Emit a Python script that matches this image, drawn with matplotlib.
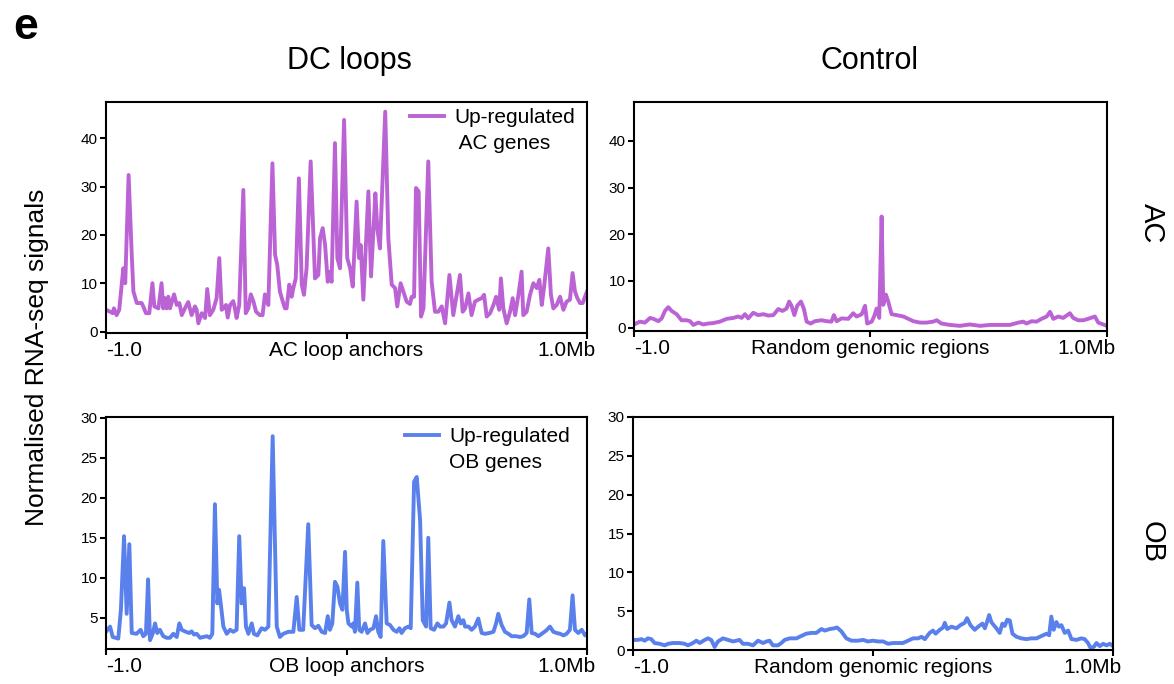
import matplotlib
matplotlib.use("Agg")
import matplotlib.pyplot as plt
from matplotlib.lines import Line2D
import matplotlib.transforms as mtransforms

plt.rcParams['font.family'] = ['Liberation Sans', 'DejaVu Sans']

# ---- profile data: position relative to anchor (kb) and normalised signal ----
ac_loop_kb = [-1000, -983, -972, -967, -956, -945, -928, -920, -906, -893,
              -886, -872, -852, -845, -834, -820, -807, -799, -782, -769,
              -762, -755, -748, -741, -734, -717, -706, -695, -685, -672,
              -658, -644, -630, -623, -616, -602, -588, -579, -568, -554,
              -540, -529, -519, -512, -501, -494, -484, -471, -464, -457,
              -446, -429, -419, -408, -398, -387, -376, -360, -349, -339,
              -325, -308, -297, -288, -277, -265, -256, -249, -238, -228,
              -221, -211, -198, -186, -177, -166, -149, -131, -117, -110,
              -99, -89, -78, -69, -62, -48, -38, -27, -10,
              3, 15, 26, 42, 52, 59, 70, 91, 102, 120,
              128, 139, 161, 174, 188, 202, 211, 225, 236, 250,
              264, 271, 281, 289, 300, 310, 320, 340, 354, 368,
              382, 396, 410, 428, 444, 458, 472, 483, 493, 507,
              520, 534, 548, 562, 572, 583, 597, 611, 622, 635,
              642, 652, 666, 680, 691, 701, 715, 728, 735, 749,
              763, 777, 791, 802, 812, 821, 839, 850, 860, 874,
              888, 902, 915, 929, 940, 950, 960, 971, 982, 1000]
ac_loop_signal = [4.5, 4.1, 3.8, 4.8, 3.4, 4.5, 13.1, 10.0, 32.4, 15.9,
                  8.3, 5.9, 5.9, 5.2, 3.8, 3.8, 10.0, 5.2, 4.8, 10.0,
                  4.8, 6.9, 4.8, 7.2, 4.8, 7.7, 5.5, 5.9, 3.4, 4.8,
                  6.1, 3.4, 5.2, 4.5, 1.7, 3.8, 2.8, 8.8, 3.4, 4.5,
                  6.9, 15.2, 4.5, 4.8, 5.5, 2.9, 5.5, 6.3, 4.8, 2.8,
                  5.5, 29.3, 3.8, 4.8, 7.7, 6.2, 4.1, 3.4, 3.4, 7.7,
                  5.5, 34.8, 15.9, 13.8, 8.3, 6.2, 4.8, 4.8, 9.7, 7.2,
                  9.0, 11.0, 31.7, 9.7, 7.6, 13.1, 35.2, 11.0, 11.7, 19.3,
                  21.4, 17.9, 10.3, 12.4, 10.3, 39.0, 15.2, 13.1, 43.8,
                  15.2, 13.1, 9.3, 26.9, 15.2, 17.9, 6.6, 29.0, 11.4, 28.6,
                  21.4, 17.2, 45.5, 19.3, 9.7, 9.0, 5.2, 10.0, 8.3, 6.2,
                  5.7, 7.2, 7.2, 29.7, 29.0, 3.1, 4.8, 35.2, 10.3, 4.1,
                  4.1, 5.2, 1.7, 11.7, 3.4, 7.6, 11.7, 4.1, 4.8, 7.9,
                  3.4, 6.2, 6.6, 6.9, 7.6, 3.1, 3.8, 5.5, 7.2, 4.5,
                  11.0, 4.8, 1.7, 4.1, 6.9, 3.4, 7.6, 12.4, 3.4, 4.1,
                  7.6, 10.0, 9.0, 10.7, 5.5, 9.0, 17.2, 7.6, 4.8, 5.5,
                  7.2, 4.5, 6.2, 6.6, 12.1, 8.3, 6.9, 5.9, 5.9, 8.3]

ac_ctrl_kb = [-1000, -975, -954, -932, -918, -897, -883, -869, -855, -841,
              -820, -799, -778, -763, -749, -728, -707, -686, -665, -637,
              -608, -580, -559, -545, -531, -517, -496, -475, -453, -432,
              -411, -390, -372, -355, -344, -334, -322, -310, -294, -282,
              -270, -253, -235, -207, -186, -165, -155, -143, -122, -94,
              -73, -59, -45,
              -37, -23, -14, 5, 15, 26, 37, 47, 54, 65,
              75, 89, 110, 139, 160, 181, 209, 237, 265, 280,
              300, 336, 378, 420, 463, 505, 547, 589, 625, 646,
              660, 681, 702, 723, 745, 759, 773, 794, 815, 843,
              857, 878, 900, 920, 949, 963, 984, 1000]
ac_ctrl_signal = [0.7, 1.3, 1.1, 2.1, 1.9, 1.4, 2.0, 3.6, 4.4, 3.6,
                  2.9, 1.6, 1.6, 1.4, 0.6, 1.1, 0.7, 0.9, 1.0, 1.3,
                  1.9, 2.1, 2.4, 2.1, 2.9, 2.0, 3.2, 2.7, 2.9, 2.6,
                  2.7, 4.0, 3.6, 4.1, 5.6, 4.7, 2.7, 4.7, 5.6, 4.1,
                  1.3, 0.9, 1.4, 1.6, 1.4, 1.3, 2.7, 1.4, 2.0, 1.9,
                  3.1, 2.4, 2.7,
                  2.9, 4.7, 0.9, 1.3, 2.4, 4.1, 2.1, 23.8, 4.9, 7.1,
                  5.6, 2.9, 2.7, 2.4, 1.9, 1.4, 1.1, 1.1, 1.3, 1.6,
                  0.9, 0.6, 0.4, 0.7, 0.4, 0.6, 0.6, 0.6, 1.1, 1.3,
                  0.9, 1.4, 1.3, 1.9, 2.4, 3.4, 1.9, 2.4, 2.1, 3.1,
                  2.1, 1.6, 1.6, 1.9, 2.4, 1.1, 0.7, 0.4]

ob_loop_kb = [-1000, -983, -972, -949, -938, -925, -914, -903, -893, -873,
              -856, -845, -834, -825, -817, -806, -796, -787, -776, -762,
              -748, -734, -720, -706, -695, -685, -672, -654, -644, -634,
              -623, -609, -595, -581, -568, -558, -547, -537, -530, -523,
              -512, -498, -484, -471, -457, -446, -436, -426, -418, -408,
              -394, -385, -371, -353, -339, -325, -307, -290, -277, -263,
              -242, -221, -207, -196, -180, -159, -145, -131, -117, -103,
              -89, -78, -69, -59, -48, -38, -27, -17, -6,
              1, 8, 22, 28, 35, 45, 53, 63, 77, 87,
              98, 112, 123, 132, 142, 153, 167, 181, 195, 209,
              220, 229, 243, 257, 267, 281, 292, 306, 317, 331,
              340, 350, 364, 378, 389, 403, 414, 428, 437, 451,
              465, 475, 486, 493, 507, 520, 534, 548, 562, 576,
              594, 611, 622, 631, 645, 659, 673, 687, 705, 721,
              735, 749, 760, 770, 784, 798, 812, 830, 846, 860,
              874, 888, 902, 915, 929, 940, 950, 964, 978, 992, 1000]
ob_loop_signal = [3.25, 3.9, 2.6, 2.4, 6.0, 15.2, 5.5, 14.2, 3.1, 3.0,
                  3.5, 2.7, 3.0, 9.8, 2.2, 3.0, 4.3, 3.1, 3.5, 2.7,
                  2.5, 2.5, 3.0, 2.6, 4.3, 3.5, 3.3, 3.1, 3.3, 2.9,
                  3.0, 2.5, 2.6, 2.7, 2.5, 3.0, 19.2, 6.8, 8.5, 6.8,
                  3.9, 3.0, 3.5, 3.25, 3.5, 15.2, 6.8, 8.7, 3.9, 3.0,
                  4.3, 3.0, 2.8, 3.7, 3.5, 3.9, 27.7, 3.9, 2.6, 3.0,
                  3.25, 3.25, 7.6, 3.5, 3.5, 16.7, 4.1, 3.7, 4.0, 3.25,
                  3.1, 5.2, 3.5, 4.3, 9.5, 8.9, 6.8, 6.0, 13.25,
                  6.0, 4.3, 3.9, 4.3, 3.25, 9.4, 3.5, 3.25, 4.3, 3.1,
                  3.5, 3.7, 5.2, 3.25, 2.6, 14.6, 4.3, 4.1, 3.5, 3.25,
                  3.7, 3.1, 3.7, 3.9, 3.7, 22.0, 22.6, 17.2, 4.7, 3.9,
                  15.0, 3.7, 3.5, 4.3, 3.9, 3.9, 4.3, 6.9, 4.7, 3.9,
                  5.2, 4.3, 4.7, 3.9, 3.9, 3.5, 3.9, 4.9, 3.1, 3.0,
                  3.1, 3.25, 4.3, 5.5, 4.1, 3.25, 3.0, 2.7, 2.7, 2.6,
                  2.7, 3.1, 7.3, 3.1, 3.0, 2.7, 3.0, 3.4, 3.9, 3.25,
                  3.1, 3.0, 2.8, 3.0, 3.5, 7.8, 3.5, 3.1, 3.5, 2.8, 3.0]

ob_ctrl_kb = [-1000, -979, -965, -951, -938, -924, -910, -889, -868, -854,
              -833, -806, -785, -771, -750, -736, -722, -701, -688, -674,
              -660, -646, -625, -604, -583, -569, -556, -542, -521, -500,
              -479, -458, -444, -431, -417, -396, -382, -368, -347, -319,
              -299, -278, -257, -236, -215, -201, -180, -160, -150, -132,
              -111, -90,
              -62, -41, -21, 0, 21, 42, 63, 84, 104, 125,
              146, 167, 188, 202, 216, 236, 250, 261, 278, 292,
              299, 309, 327, 348, 364, 382, 392, 406, 424, 438,
              456, 466, 475, 484, 493, 503, 514, 528, 539, 549,
              559, 570, 581, 598, 618, 639, 660, 681, 702, 723,
              734, 743, 753, 764, 775, 785, 799, 813, 827, 848,
              868, 882, 896, 906, 920, 931, 945, 959, 973, 987, 1000]
ob_ctrl_signal = [1.3, 1.3, 1.4, 1.2, 1.5, 1.4, 0.9, 0.8, 0.6, 0.8,
                  0.9, 0.9, 0.8, 0.6, 0.9, 1.2, 0.9, 1.3, 1.5, 1.3,
                  0.4, 1.1, 1.5, 1.3, 1.1, 1.2, 1.3, 0.8, 0.8, 0.6,
                  1.2, 0.9, 1.1, 1.2, 0.6, 0.6, 0.9, 1.3, 1.5, 1.5,
                  1.8, 2.1, 2.2, 2.2, 2.7, 2.5, 2.7, 2.8, 2.9, 2.4,
                  1.5, 1.2,
                  1.2, 1.3, 1.1, 1.2, 1.1, 1.1, 0.8, 0.9, 0.9, 0.9,
                  1.2, 1.5, 1.5, 1.7, 1.4, 2.2, 2.5, 2.1, 2.6, 2.9,
                  3.5, 2.7, 3.0, 2.8, 3.2, 3.5, 4.1, 3.2, 2.6, 3.0,
                  3.4, 2.8, 3.6, 4.5, 3.6, 3.2, 2.8, 2.2, 3.4, 3.1,
                  3.9, 3.8, 2.1, 1.7, 1.5, 1.4, 1.5, 1.5, 1.8, 2.1,
                  1.9, 4.3, 2.6, 3.6, 3.0, 3.2, 2.2, 2.5, 1.4, 1.3,
                  1.5, 1.4, 0.9, 0.3, 0.4, 0.9, 0.5, 0.8, 0.6, 0.8, 0.5]

ac_yticks = [0, 10, 20, 30, 40]
ob_yticks_loop = [5, 10, 15, 20, 25, 30]
ob_yticks_ctrl = [0, 5, 10, 15, 20, 25, 30]
x_ticks = [-1000, 0, 1000]
ac_loop_xlabels = ["-1.0", "AC loop anchors", "1.0Mb"]
ob_loop_xlabels = ["-1.0", "OB loop anchors", "1.0Mb"]
ctrl_xlabels = ["-1.0", "Random genomic regions", "1.0Mb"]

AC_COLOR = "#BB63D5"
OB_COLOR = "#5A80EC"

W, H = 1174, 684
fig = plt.figure(figsize=(W / 100, H / 100), dpi=100)


def px_axes(left, top, right, bottom):
    return fig.add_axes([left / W, 1 - bottom / H, (right - left) / W, (bottom - top) / H])


def style(ax, xlabels, yticks, ylim, ytick_size):
    ax.set_xlim(-1000, 1000)
    ax.set_ylim(*ylim)
    ax.set_yticks(yticks)
    ax.set_xticks(x_ticks)
    ax.set_xticklabels(xlabels)
    for s in ax.spines.values():
        s.set_linewidth(1.5)
    ax.tick_params(axis="both", direction="out", length=4, width=1.5, color="black")
    ax.tick_params(axis="y", labelsize=ytick_size, pad=2)
    ax.tick_params(axis="x", labelsize=15, pad=2)
    labels = ax.get_xticklabels()
    labels[0].set_ha("left")
    labels[-1].set_ha("right")
    shift = mtransforms.ScaledTranslation(6 / 72, 0, fig.dpi_scale_trans)
    labels[-1].set_transform(labels[-1].get_transform() + shift)


LW = 2.8

ax1 = px_axes(106, 102, 587, 333)
ax1.plot(ac_loop_kb, ac_loop_signal, color=AC_COLOR, lw=LW, solid_joinstyle="round")
style(ax1, ac_loop_xlabels, ac_yticks, (-0.3, 47.5), 11)

ax2 = px_axes(634, 102, 1107, 331)
ax2.plot(ac_ctrl_kb, ac_ctrl_signal, color=AC_COLOR, lw=LW, solid_joinstyle="round")
style(ax2, ctrl_xlabels, ac_yticks, (-0.7, 48.3), 11)

ax3 = px_axes(106, 417, 587, 649)
ax3.plot(ob_loop_kb, ob_loop_signal, color=OB_COLOR, lw=LW, solid_joinstyle="round")
style(ax3, ob_loop_xlabels, ob_yticks_loop, (1.1, 30.1), 11)

ax4 = px_axes(633, 417, 1113, 650)
ax4.plot(ob_ctrl_kb, ob_ctrl_signal, color=OB_COLOR, lw=LW, solid_joinstyle="round")
style(ax4, ctrl_xlabels, ob_yticks_ctrl, (0, 30), 11)

# legends: first row carries the line, second row continues the label
blank = Line2D([], [], linestyle="none")
legend_specs = [(ax1, AC_COLOR, " AC genes", (1 - 6 / 481, 1.0)),
                (ax3, OB_COLOR, "OB genes", (1 - 11 / 481, 1 - 4 / 232))]
for ax, color, cell, anchor in legend_specs:
    h = Line2D([], [], color=color, lw=LW)
    ax.legend([h, blank], ["Up-regulated", cell], loc="upper right",
              bbox_to_anchor=anchor, frameon=False, fontsize=15,
              handlelength=1.6, handletextpad=0.5, labelspacing=0.34,
              borderaxespad=0.2, borderpad=0.1)

# column / row headers
fig.text(13 / W, 1 - 39 / H, "e", fontsize=32, fontweight="bold", ha="left", va="baseline")
fig.text(349 / W, 1 - 61 / H, "DC loops", fontsize=22, ha="center", va="center")
fig.text(870 / W, 1 - 61 / H, "Control", fontsize=22, ha="center", va="center")
fig.text(37 / W, 1 - 357 / H, "Normalised RNA-seq signals", fontsize=19,
         rotation=90, ha="center", va="center")
fig.text(1152 / W, 1 - 223 / H, "AC", fontsize=21, rotation=-90, ha="center", va="center")
fig.text(1152 / W, 1 - 542 / H, "OB", fontsize=21, rotation=-90, ha="center", va="center")

fig.savefig("out.png", dpi=100)
